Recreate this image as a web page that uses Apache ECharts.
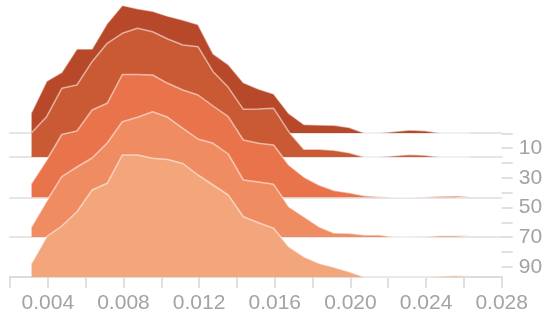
<!DOCTYPE html>
<html>
<head>
<meta charset="utf-8">
<style>
  html, body { margin: 0; padding: 0; background: #fff; }
  #main { width: 550px; height: 320px; }
</style>
<script src="https://cdn.jsdelivr.net/npm/echarts/dist/echarts.min.js"></script>
</head>
<body>
<div id="main"></div>
<script>
// bin centres shared by every ridge
var bins = [0.00314, 0.00394, 0.00474, 0.00554, 0.00634, 0.00714, 0.00794, 0.00874, 0.00954, 0.01034,
            0.01114, 0.01194, 0.01274, 0.01354, 0.01434, 0.01514, 0.01594, 0.01674, 0.01754, 0.01834,
            0.01914, 0.01994, 0.02074, 0.02154, 0.02234, 0.02314, 0.02394, 0.02474, 0.02554, 0.02634];

// ridge heights, back (top) to front (bottom)
var ridge1 = [21, 53, 62, 86, 86, 112, 130.5, 127, 124.5, 119.5, 115.5, 111, 81, 70, 51.5, 45, 40, 20, 8.7, 8.3, 7.8, 5.5, 0, 0, 1.5, 3, 2.3, 0, 0, 0];
var ridge2 = [24.3, 40.3, 68.7, 72, 95.3, 113.7, 123.7, 128.7, 125.3, 118, 112, 110.3, 85.3, 69.7, 47.7, 48, 48.7, 25.3, 7.7, 7.7, 6.7, 4.3, 0, 0, 1.2, 2.5, 1.8, 0, 0, 0];
var ridge3 = [14, 37.3, 62.8, 66.3, 87.3, 94, 122.8, 122.8, 122.3, 114, 107.3, 102.3, 91.3, 80.6, 57.3, 54, 52.3, 32.3, 20.3, 12.3, 6.8, 4.5, 1.5, 0.5, 0, 0, 0.3, 1, 1.3, 1.4];
var ridge4 = [10.3, 36, 60.3, 70, 79, 94, 115.3, 119.7, 125.3, 119.7, 108.7, 98, 93.7, 83, 57, 55, 52.7, 30.3, 20.3, 10.3, 4, 3.7, 2, 2, 0, 0, 0.3, 1.2, 1.3, 1.5];
var ridge5 = [13.7, 40.3, 51, 65.3, 87, 93.7, 122, 122, 118.7, 117.5, 113.5, 102, 92, 82, 60.3, 54.3, 48.7, 30.3, 20.3, 13.7, 9.7, 5.3, 0, 0, 0, 0, 0, 0.8, 1.2, 1.3];

var ridges = [ridge1, ridge2, ridge3, ridge4, ridge5];
var colors = ['#b8482a', '#c95a34', '#e9744b', '#f08c61', '#f3a67b'];
var baselines = [133, 157, 197.3, 237, 277];   // px from top
var rightTicks = [0, 10, 20, 30, 40, 50, 60, 70, 80, 90];

var W = 550, H = 320, LEFT = 10, RIGHT = 48.3, RIDGE_H = 136;
var font = 'Liberation Sans, Arial, sans-serif';

var myChart = echarts.init(document.getElementById('main'));

var grids = [], xAxes = [], yAxes = [], series = [];

ridges.forEach(function (r, k) {
    var last = k === ridges.length - 1;
    grids.push({ left: LEFT, right: RIGHT, bottom: H - baselines[k], height: RIDGE_H });
    xAxes.push({
        type: 'value', gridIndex: k, min: 0.002, max: 0.028, interval: 0.002,
        axisLine: { show: true, onZero: false, lineStyle: { color: last ? '#dcdcdc' : '#e6e6e6', width: 2 } },
        axisTick: { show: last, length: 11, lineStyle: { color: '#d6d6d6', width: 1.5 } },
        axisLabel: {
            show: last, margin: 16, fontSize: 21, color: '#a3a3a3', fontFamily: font,
            formatter: function (v) {
                return Math.round(v * 1000) % 4 === 0 ? v.toFixed(3) : '';
            }
        },
        splitLine: { show: false }
    });
    yAxes.push({ type: 'value', gridIndex: k, min: 0, max: RIDGE_H, show: false });
    series.push({
        type: 'line', xAxisIndex: k, yAxisIndex: k, z: 2 + k,
        data: bins.map(function (x, i) { return [x, r[i]]; }),
        symbol: 'none', clip: false, silent: true,
        lineStyle: { color: 'rgba(255,255,255,0.55)', width: 1.5 },
        areaStyle: { color: colors[k], opacity: 1 }
    });
});

// right-hand scale, only ticks and labels
grids.push({ left: LEFT, right: RIGHT, top: 133.3, bottom: H - 266.9 });
xAxes.push({ type: 'value', gridIndex: 5, min: 0, max: 1, show: false });
yAxes.push({
    type: 'value', gridIndex: 5, position: 'right', inverse: true,
    min: rightTicks[0], max: rightTicks[rightTicks.length - 1], interval: 10,
    axisLine: { show: false, onZero: false },
    axisTick: { show: true, length: 11, lineStyle: { color: '#d6d6d6', width: 1.5 } },
    axisLabel: {
        margin: 17, fontSize: 21, color: '#a3a3a3', fontFamily: font,
        formatter: function (v) { return (v / 10) % 2 === 1 ? String(v) : ''; }
    },
    splitLine: { show: false }
});

var option = {
    animation: false,
    grid: grids,
    xAxis: xAxes,
    yAxis: yAxes,
    series: series
};

myChart.setOption(option);
</script>
</body>
</html>
